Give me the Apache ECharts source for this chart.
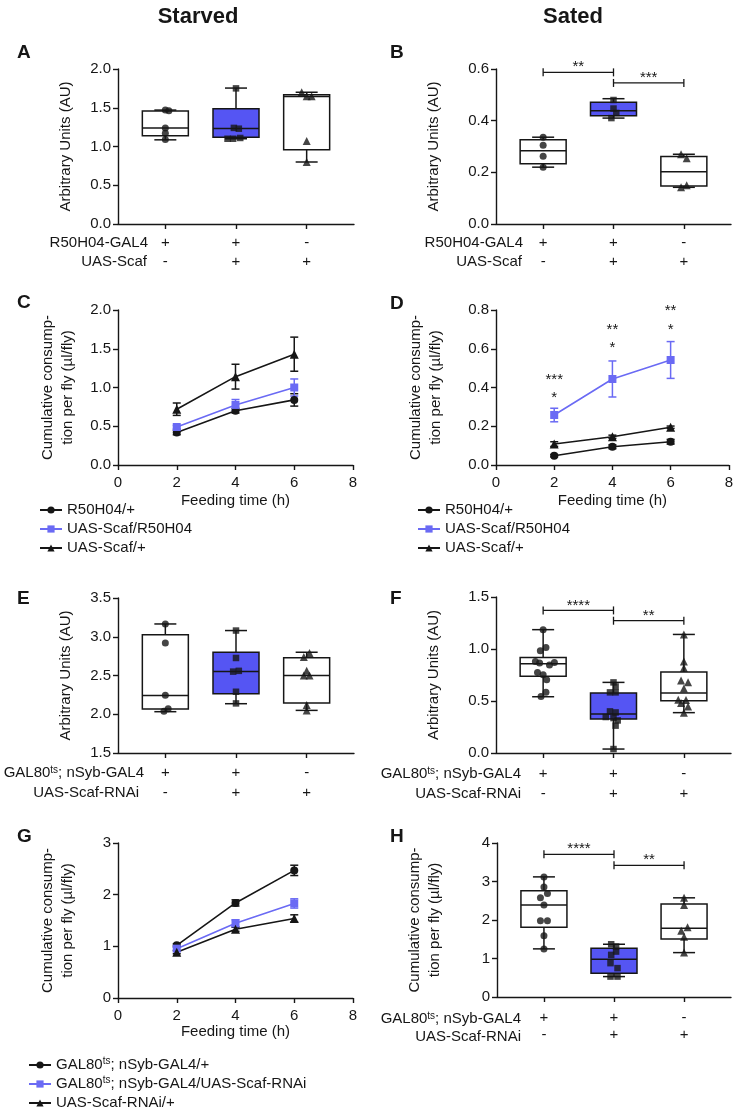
<!DOCTYPE html>
<html><head><meta charset="utf-8">
<script src="https://cdn.jsdelivr.net/npm/echarts@6/dist/echarts.min.js"></script>
<style>html,body{margin:0;padding:0;background:#fff}#c{width:736px;height:1112px}</style>
</head><body><div id="c"></div>
<script>
// ---------------- DATA ----------------
const CAT_POS = [1, 2, 3];
const GENO_ROW1 = ['+', '+', '-'];
const GENO_ROW2 = ['-', '+', '+'];
const TIME_X = [2, 4, 6];

// Box plots: [min, Q1, median, Q3, max]
const A_box = [[1.086, 1.14, 1.24, 1.457, 1.47], [1.10, 1.12, 1.232, 1.487, 1.754], [0.80, 0.957, 1.646, 1.668, 1.70]];
const A_pts1 = [[1.0, 1.47], [1.05, 1.46], [1.0, 1.24], [1.0, 1.17], [1.0, 1.09]];
const A_pts2 = [[2.0, 1.75], [1.97, 1.24], [2.04, 1.23], [1.88, 1.10], [1.96, 1.10], [2.06, 1.11]];
const A_pts3 = [[2.93, 1.70], [3.0, 1.65], [3.07, 1.65], [3.0, 1.07], [3.0, 0.80]];

const B_box = [[0.22, 0.233, 0.284, 0.326, 0.336], [0.41, 0.419, 0.438, 0.471, 0.485], [0.142, 0.147, 0.202, 0.261, 0.27]];
const B_pts1 = [[1.0, 0.336], [1.0, 0.305], [1.0, 0.262], [1.0, 0.22]];
const B_pts2 = [[2.0, 0.48], [2.0, 0.447], [2.04, 0.43], [1.97, 0.41]];
const B_pts3 = [[2.96, 0.27], [3.04, 0.255], [3.04, 0.15], [2.96, 0.142]];
const B_sig = [[1, 2, 0.587], [2, 3, 0.546]];
const B_sigText = ['**', '***'];

const C_r50 = [0.42, 0.70, 0.84], C_r50_err = [0.03, 0.03, 0.08];
const C_scafR = [0.49, 0.775, 1.0], C_scafR_err = [0.02, 0.07, 0.11];
const C_scaf = [0.72, 1.14, 1.43], C_scaf_err = [0.08, 0.16, 0.22];

const D_r50 = [0.048, 0.094, 0.12], D_r50_err = [0.006, 0.01, 0.012];
const D_scafR = [0.258, 0.444, 0.542], D_scafR_err = [0.035, 0.093, 0.095];
const D_scaf = [0.108, 0.146, 0.195], D_scaf_err = [0.012, 0.008, 0.006];
const D_stars = [[2, 0.456], [2, 0.361], [4, 0.715], [4, 0.62], [6, 0.81], [6, 0.715]];
const D_starText = ['***', '*', '**', '*', '**', '*'];

const E_box = [[2.033, 2.068, 2.243, 3.027, 3.165], [2.136, 2.265, 2.553, 2.80, 3.08], [2.05, 2.145, 2.50, 2.73, 2.80]];
const E_pts1 = [[1.0, 3.165], [1.0, 2.92], [1.0, 2.245], [1.04, 2.07], [0.98, 2.04]];
const E_pts2 = [[2.0, 3.08], [2.0, 2.726], [1.96, 2.55], [2.04, 2.56], [2.0, 2.29], [2.0, 2.14]];
const E_pts3 = [[3.04, 2.79], [2.96, 2.74], [3.0, 2.56], [2.96, 2.50], [3.04, 2.50], [3.0, 2.12], [3.0, 2.05]];

const F_box = [[0.541, 0.737, 0.859, 0.919, 1.186], [0.038, 0.327, 0.375, 0.577, 0.679], [0.388, 0.503, 0.577, 0.779, 1.14]];
const F_pts1 = [[1.0, 1.186], [1.04, 1.015], [0.96, 0.984], [0.89, 0.881], [0.95, 0.865], [1.09, 0.846], [1.16, 0.871], [0.92, 0.775], [1.0, 0.753], [1.05, 0.705], [1.04, 0.583], [0.97, 0.544]];
const F_pts2 = [[2.0, 0.679], [2.03, 0.64], [1.95, 0.583], [2.03, 0.583], [1.95, 0.40], [2.03, 0.39], [1.89, 0.346], [2.0, 0.336], [2.06, 0.313], [2.03, 0.263], [2.0, 0.038]];
const F_pts3 = [[3.0, 1.14], [3.0, 0.881], [3.0, 0.817], [2.96, 0.698], [3.06, 0.68], [3.0, 0.62], [2.92, 0.512], [3.03, 0.51], [2.96, 0.48], [3.06, 0.448], [3.0, 0.388]];
const F_sig = [[1, 2, 1.371], [2, 3, 1.272]];
const F_sigText = ['****', '**'];

const G_gal = [1.02, 1.84, 2.47], G_gal_err = [0.03, 0.06, 0.10];
const G_rnai = [0.955, 1.445, 1.83], G_rnai_err = [0.03, 0.07, 0.09];
const G_uas = [0.886, 1.33, 1.54], G_uas_err = [0.03, 0.04, 0.07];

const H_box = [[1.25, 1.81, 2.387, 2.757, 3.12], [0.53, 0.62, 0.98, 1.267, 1.37], [1.153, 1.508, 1.784, 2.413, 2.576]];
const H_pts1 = [[1.0, 3.12], [1.0, 2.86], [1.05, 2.69], [0.95, 2.58], [1.0, 2.39], [0.95, 1.98], [1.05, 1.98], [1.0, 1.59], [1.0, 1.25]];
const H_pts2 = [[1.96, 1.37], [2.03, 1.31], [2.03, 1.18], [1.96, 1.094], [1.95, 0.879], [2.05, 0.75], [1.95, 0.53], [2.05, 0.53]];
const H_pts3 = [[3.0, 2.576], [3.0, 2.387], [3.05, 1.81], [2.96, 1.72], [3.0, 1.567], [3.0, 1.153]];
const H_sig = [[1, 2, 3.706], [2, 3, 3.42]];
const H_sigText = ['****', '**'];

const NAMES_CD = ['R50H04/+', 'UAS-Scaf/R50H04', 'UAS-Scaf/+'];
const NAMES_G = ['GAL80ts; nSyb-GAL4/+', 'GAL80ts; nSyb-GAL4/UAS-Scaf-RNAi', 'UAS-Scaf-RNAi/+'];

// ---------------- STYLE ----------------
const FONT = '"Liberation Sans", Arial, Helvetica, sans-serif';
const INK = '#161616';
const BLUE_FILL = '#5555f3';
const BLUE_LINE = '#6a6af4';
const AXW = 1.4;

const grids = [
  {left: 118, top: 69, width: 236, height: 155},   // A
  {left: 496, top: 69, width: 235, height: 155},   // B
  {left: 118, top: 310, width: 235, height: 155},  // C
  {left: 496, top: 310, width: 235, height: 155},  // D
  {left: 118, top: 598, width: 236, height: 155},  // E
  {left: 496, top: 597, width: 235, height: 156},  // F
  {left: 118, top: 843, width: 235, height: 155},  // G
  {left: 497, top: 843, width: 234, height: 154}   // H
];

const txt = (size, extra) => Object.assign({fontSize: size, color: INK, fontFamily: FONT}, extra || {});

function boxXAxis(gi, margin, lh) {
  return {type: 'value', gridIndex: gi, min: 0.33, max: 3.67,
    axisLine: {show: true, lineStyle: {color: INK, width: AXW}},
    axisTick: {show: true, customValues: CAT_POS, length: 5, lineStyle: {color: INK, width: AXW}},
    axisLabel: Object.assign(txt(15), {show: true, customValues: CAT_POS, margin: margin, lineHeight: lh,
      formatter: v => GENO_ROW1[Math.round(v) - 1] + '\n' + GENO_ROW2[Math.round(v) - 1]}),
    splitLine: {show: false}};
}
function timeXAxis(gi, nameGap) {
  return {type: 'value', gridIndex: gi, min: 0, max: 8, interval: 2,
    axisLine: {show: true, lineStyle: {color: INK, width: AXW}},
    axisTick: {show: true, length: 5, lineStyle: {color: INK, width: AXW}},
    axisLabel: Object.assign(txt(15), {margin: 10}),
    splitLine: {show: false},
    name: 'Feeding time (h)', nameLocation: 'middle', nameGap: nameGap, nameTextStyle: txt(15)};
}
function yAx(gi, min, max, interval, dec, name, nameGap, lh) {
  return {type: 'value', gridIndex: gi, min, max, interval,
    axisLine: {show: true, lineStyle: {color: INK, width: AXW}},
    axisTick: {show: true, length: 5, lineStyle: {color: INK, width: AXW}},
    axisLabel: Object.assign(txt(15), {margin: 7, formatter: v => v.toFixed(dec)}),
    splitLine: {show: false},
    name, nameLocation: 'middle', nameGap, nameTextStyle: txt(15, {lineHeight: lh})};
}
const AU = 'Arbitrary Units (AU)';
const CUM = 'Cumulative consump-\ntion per fly (µl/fly)';

function boxSeries(ax, boxes) {
  return {type: 'custom', xAxisIndex: ax, yAxisIndex: ax, z: 2, silent: true,
    data: boxes.map((b, i) => [CAT_POS[i]].concat(b)),
    renderItem: (params, api) => {
      const x = api.value(0);
      const P = k => api.coord([x, api.value(k)]);
      const pMin = P(1), pQ1 = P(2), pMd = P(3), pQ3 = P(4), pMax = P(5);
      const cx = pMin[0], hw = 23, cw = 11;
      const st = {stroke: INK, lineWidth: 1.5};
      const fill = params.dataIndex === 1 ? BLUE_FILL : '#ffffff';
      return {type: 'group', children: [
        {type: 'line', shape: {x1: cx, y1: pMax[1], x2: cx, y2: pQ3[1]}, style: st},
        {type: 'line', shape: {x1: cx, y1: pQ1[1], x2: cx, y2: pMin[1]}, style: st},
        {type: 'line', shape: {x1: cx - cw, y1: pMax[1], x2: cx + cw, y2: pMax[1]}, style: st},
        {type: 'line', shape: {x1: cx - cw, y1: pMin[1], x2: cx + cw, y2: pMin[1]}, style: st},
        {type: 'rect', shape: {x: cx - hw, y: pQ3[1], width: 2 * hw, height: pQ1[1] - pQ3[1]}, style: {fill: fill, stroke: INK, lineWidth: 1.5}},
        {type: 'line', shape: {x1: cx - hw, y1: pMd[1], x2: cx + hw, y2: pMd[1]}, style: st}
      ]};
    }};
}
function ptsSeries(ax, pts, symbol, size) {
  return {type: 'scatter', xAxisIndex: ax, yAxisIndex: ax, data: pts, symbol, symbolSize: size,
    itemStyle: {color: INK}, z: 4, silent: true};
}
function sigSeries(ax, sig, labels) {
  return {type: 'custom', xAxisIndex: ax, yAxisIndex: ax, z: 3, silent: true, data: sig,
    renderItem: (params, api) => {
      const p1 = api.coord([api.value(0), api.value(2)]);
      const p2 = api.coord([api.value(1), api.value(2)]);
      const st = {stroke: INK, lineWidth: 1.3};
      return {type: 'group', children: [
        {type: 'line', shape: {x1: p1[0], y1: p1[1], x2: p2[0], y2: p2[1]}, style: st},
        {type: 'line', shape: {x1: p1[0], y1: p1[1] - 4, x2: p1[0], y2: p1[1] + 4}, style: st},
        {type: 'line', shape: {x1: p2[0], y1: p2[1] - 4, x2: p2[0], y2: p2[1] + 4}, style: st},
        {type: 'text', x: (p1[0] + p2[0]) / 2, y: p1[1] - 5,
          style: {text: labels[params.dataIndex], fill: INK, fontSize: 15, fontFamily: FONT, align: 'center', verticalAlign: 'middle'}}
      ]};
    }};
}
function starSeries(ax, pts, labels) {
  return {type: 'custom', xAxisIndex: ax, yAxisIndex: ax, z: 3, silent: true, data: pts,
    renderItem: (params, api) => {
      const p = api.coord([api.value(0), api.value(1)]);
      return {type: 'text', x: p[0], y: p[1] + 3,
        style: {text: labels[params.dataIndex], fill: INK, fontSize: 15, fontFamily: FONT, align: 'center', verticalAlign: 'middle'}};
    }};
}
function lineSeries(ax, name, ys, color, symbol, size) {
  return {type: 'line', name, xAxisIndex: ax, yAxisIndex: ax, data: TIME_X.map((x, i) => [x, ys[i]]),
    symbol, symbolSize: size, lineStyle: {color, width: 1.6}, itemStyle: {color}, z: 4, silent: true};
}
function errSeries(ax, ys, errs, color) {
  return {type: 'custom', xAxisIndex: ax, yAxisIndex: ax, z: 3, silent: true,
    data: TIME_X.map((x, i) => [x, ys[i], errs[i]]),
    renderItem: (params, api) => {
      const x = api.value(0), y = api.value(1), e = api.value(2);
      const lo = api.coord([x, y - e]), hi = api.coord([x, y + e]);
      const st = {stroke: color, lineWidth: 1.5};
      return {type: 'group', children: [
        {type: 'line', shape: {x1: lo[0], y1: lo[1], x2: hi[0], y2: hi[1]}, style: st},
        {type: 'line', shape: {x1: lo[0] - 4, y1: lo[1], x2: lo[0] + 4, y2: lo[1]}, style: st},
        {type: 'line', shape: {x1: hi[0] - 4, y1: hi[1], x2: hi[0] + 4, y2: hi[1]}, style: st}
      ]};
    }};
}
function linePanel(ax, names, sets) {
  const out = [];
  sets.forEach((s, i) => {
    out.push(errSeries(ax, s[0], s[1], s[2]));
    out.push(lineSeries(ax, names[i], s[0], s[2], s[3], s[4]));
  });
  return out;
}
function boxPanel(ax, boxes, p1, p2, p3) {
  return [boxSeries(ax, boxes), ptsSeries(ax, p1, 'circle', 7), ptsSeries(ax, p2, 'rect', 6.5), ptsSeries(ax, p3, 'triangle', 8)];
}

const series = [].concat(
  boxPanel(0, A_box, A_pts1, A_pts2, A_pts3),
  boxPanel(1, B_box, B_pts1, B_pts2, B_pts3), [sigSeries(1, B_sig, B_sigText)],
  linePanel(2, NAMES_CD, [[C_r50, C_r50_err, INK, 'circle', 8], [C_scafR, C_scafR_err, BLUE_LINE, 'rect', 8], [C_scaf, C_scaf_err, INK, 'triangle', 9]]),
  linePanel(3, NAMES_CD, [[D_r50, D_r50_err, INK, 'circle', 8], [D_scafR, D_scafR_err, BLUE_LINE, 'rect', 8], [D_scaf, D_scaf_err, INK, 'triangle', 9]]),
  [starSeries(3, D_stars, D_starText)],
  boxPanel(4, E_box, E_pts1, E_pts2, E_pts3),
  boxPanel(5, F_box, F_pts1, F_pts2, F_pts3), [sigSeries(5, F_sig, F_sigText)],
  linePanel(6, NAMES_G, [[G_gal, G_gal_err, INK, 'circle', 8], [G_rnai, G_rnai_err, BLUE_LINE, 'rect', 8], [G_uas, G_uas_err, INK, 'triangle', 9]]),
  boxPanel(7, H_box, H_pts1, H_pts2, H_pts3), [sigSeries(7, H_sig, H_sigText)]
);

const SUP = {s: {fontSize: 10, lineHeight: 10, verticalAlign: 'top', fontFamily: FONT, color: INK}};
const supFmt = n => n.replace('GAL80ts', 'GAL80{s|ts}');
function legendAt(left, top, names) {
  return {left, top, orient: 'vertical', padding: 0, itemWidth: 22, itemHeight: 9, itemGap: 1,
    selectedMode: false, data: names, formatter: supFmt,
    textStyle: Object.assign(txt(15), {lineHeight: 18, padding: [0, 0, 0, 0], rich: SUP})};
}

function gText(x, y, text, opt) {
  return {type: 'text', x, y, silent: true,
    style: Object.assign({text, fill: INK, fontSize: 15, fontFamily: FONT, align: 'right', verticalAlign: 'middle', rich: SUP}, opt || {})};
}
const letter = (x, y, t) => gText(x, y, t, {fontSize: 19, fontWeight: 'bold', align: 'left', verticalAlign: 'top'});

const option = {
  backgroundColor: '#ffffff',
  animation: false,
  grid: grids,
  xAxis: [boxXAxis(0, 9, 19), boxXAxis(1, 9, 19), timeXAxis(2, 28), timeXAxis(3, 28),
          boxXAxis(4, 10, 20), boxXAxis(5, 11, 20), timeXAxis(6, 26), boxXAxis(7, 12, 17.5)],
  yAxis: [yAx(0, 0, 2, 0.5, 1, AU, 43, 18), yAx(1, 0, 0.6, 0.2, 1, AU, 53, 18),
          yAx(2, 0, 2, 0.5, 1, CUM, 40, 20), yAx(3, 0, 0.8, 0.2, 1, CUM, 50, 20),
          yAx(4, 1.5, 3.5, 0.5, 1, AU, 43, 18), yAx(5, 0, 1.5, 0.5, 1, AU, 53, 18),
          yAx(6, 0, 3, 1, 0, CUM, 40, 20), yAx(7, 0, 4, 1, 0, CUM, 52, 20)],
  legend: [legendAt(39, 501, NAMES_CD), legendAt(417, 501, NAMES_CD), legendAt(28, 1056, NAMES_G)],
  series,
  graphic: [
    gText(198, 17, 'Starved', {fontSize: 22, fontWeight: 'bold', align: 'center'}),
    gText(573, 17, 'Sated', {fontSize: 22, fontWeight: 'bold', align: 'center'}),
    letter(17, 43, 'A'), letter(390, 43, 'B'), letter(17, 293, 'C'), letter(390, 294, 'D'),
    letter(17, 589, 'E'), letter(390, 589, 'F'), letter(17, 827, 'G'), letter(390, 827, 'H'),
    gText(148, 242.5, 'R50H04-GAL4'), gText(147, 261.5, 'UAS-Scaf'),
    gText(523, 242.5, 'R50H04-GAL4'), gText(522, 261.5, 'UAS-Scaf'),
    gText(144, 773, 'GAL80{s|ts}; nSyb-GAL4'), gText(139, 793, 'UAS-Scaf-RNAi'),
    gText(521, 774, 'GAL80{s|ts}; nSyb-GAL4'), gText(521, 794, 'UAS-Scaf-RNAi'),
    gText(521, 1019, 'GAL80{s|ts}; nSyb-GAL4'), gText(521, 1037, 'UAS-Scaf-RNAi')
  ]
};

const chart = echarts.init(document.getElementById('c'), null, {renderer: 'canvas', width: 736, height: 1112});
chart.setOption(option);
</script></body></html>
